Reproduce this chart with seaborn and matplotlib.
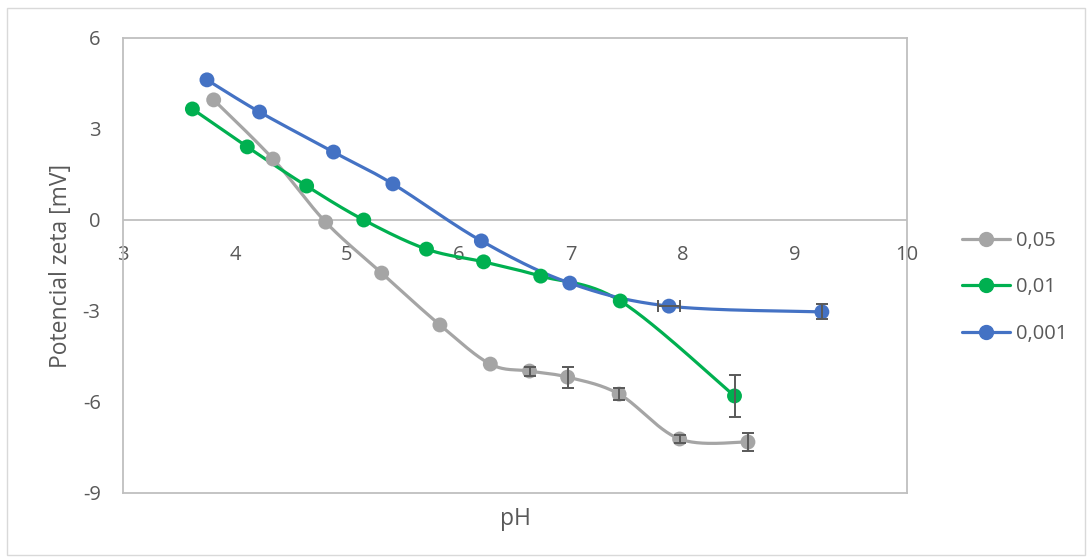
import numpy as np
import pandas as pd
import matplotlib
matplotlib.use("Agg")
import matplotlib.pyplot as plt
from matplotlib.lines import Line2D
from matplotlib.patches import Rectangle
import seaborn as sns

# Zeta potential vs pH for three ionic strengths
ph_005 = [3.81, 4.34, 4.81, 5.31, 5.83, 6.28, 6.63, 6.97, 7.43, 7.97, 8.58]
zeta_005 = [3.96, 2.01, -0.07, -1.75, -3.46, -4.75, -4.98, -5.18, -5.74, -7.22, -7.32]
err_005 = [0.0, 0.0, 0.0, 0.0, 0.0, 0.0, 0.15, 0.35, 0.2, 0.12, 0.3]

ph_001 = [3.62, 4.11, 4.64, 5.15, 5.71, 6.22, 6.73, 7.44, 8.46]
zeta_001 = [3.66, 2.41, 1.12, 0.0, -0.96, -1.38, -1.85, -2.67, -5.80]
err_001 = [0.0, 0.0, 0.0, 0.0, 0.0, 0.0, 0.0, 0.0, 0.68]

ph_0001 = [3.75, 4.22, 4.88, 5.41, 6.20, 6.99, 7.875, 9.24]
zeta_0001 = [4.62, 3.56, 2.24, 1.19, -0.69, -2.08, -2.84, -3.03]
err_0001 = [0.0, 0.0, 0.0, 0.0, 0.0, 0.0, 0.0, 0.25]
xerr_0001 = [0.0, 0.0, 0.0, 0.0, 0.0, 0.0, 0.1, 0.0]

labels = ["0,05", "0,01", "0,001"]
colors = ["#A5A5A5", "#00B050", "#4472C4"]

x_ticks = [3, 4, 5, 6, 7, 8, 9, 10]
y_ticks = [-9, -6, -3, 0, 3, 6]

series = [
    (ph_005, zeta_005, err_005, None),
    (ph_001, zeta_001, err_001, None),
    (ph_0001, zeta_0001, err_0001, xerr_0001),
]


def smooth_curve(x, y, n=30):
    """Bezier smoothing through every point (spreadsheet-style smoothed line)."""
    p = np.column_stack([x, y]).astype(float)
    out = [p[0:1]]
    for i in range(len(p) - 1):
        p0 = p[i - 1] if i > 0 else p[i]
        p1, p2 = p[i], p[i + 1]
        p3 = p[i + 2] if i + 2 < len(p) else p[i + 1]
        c1 = p1 + (p2 - p0) / 6.0
        c2 = p2 - (p3 - p1) / 6.0
        t = np.linspace(0, 1, n)[1:, None]
        seg = ((1 - t) ** 3) * p1 + 3 * ((1 - t) ** 2) * t * c1 + 3 * (1 - t) * t ** 2 * c2 + t ** 3 * p2
        out.append(seg)
    c = np.vstack(out)
    return c[:, 0], c[:, 1]


sns.set_theme(style="white")
plt.rcParams["font.family"] = ["Open Sans", "DejaVu Sans"]
text_color = "#595959"
grid_color = "#BFBFBF"
fs = 14.5
fs_title = 16.5

fig = plt.figure(figsize=(10.9, 5.58), dpi=100)
ax = fig.add_axes([0.1128, 0.1165, 0.8321 - 0.1128, 0.9319 - 0.1165])

# outer chart frame
fig.patches.append(Rectangle((7 / 1090, 3 / 558), 1078 / 1090, 547 / 558,
                             transform=fig.transFigure, fill=False,
                             edgecolor="#D9D9D9", linewidth=1.0))

ax.axhline(0, color=grid_color, linewidth=1.3, zorder=1)

for (xs, ys, es, xes), lab, col in zip(series, labels, colors):
    sx, sy = smooth_curve(xs, ys)
    ax.plot(sx, sy, color=col, linewidth=2.3, zorder=2, solid_capstyle="round")
    df = pd.DataFrame({"pH": xs, "zeta": ys})
    sns.scatterplot(data=df, x="pH", y="zeta", color=col, s=115,
                    edgecolor="none", ax=ax, zorder=3, legend=False)
    e = np.array(es)
    m = e > 0
    if m.any():
        ax.errorbar(np.array(xs)[m], np.array(ys)[m], yerr=e[m], fmt="none",
                    ecolor="#595959", elinewidth=1.4, capsize=4, capthick=1.4, zorder=4)
    if xes is not None:
        xe = np.array(xes)
        mx = xe > 0
        ax.errorbar(np.array(xs)[mx], np.array(ys)[mx], xerr=xe[mx], fmt="none",
                    ecolor="#595959", elinewidth=1.4, capsize=4, capthick=1.4, zorder=4)

ax.set_xlim(3, 10)
ax.set_ylim(-9, 6)
ax.set_yticks(y_ticks)
ax.set_yticklabels([str(v) for v in y_ticks])
ax.set_xticks(x_ticks)
ax.tick_params(axis="x", labelbottom=False, length=0)
ax.tick_params(axis="y", length=0, labelsize=fs, labelcolor=text_color, pad=16)

# x tick labels sit just below the zero line
sec = ax.secondary_xaxis(0.6)
sec.set_alignment("bottom")
sec.set_xticks(x_ticks)
sec.set_xticklabels([str(v) for v in x_ticks])
sec.tick_params(length=0, labelsize=fs, labelcolor=text_color, pad=18)
for s in sec.spines.values():
    s.set_visible(False)

for s in ax.spines.values():
    s.set_visible(True)
    s.set_color(grid_color)
    s.set_linewidth(1.3)

ax.set_xlabel("pH", fontsize=fs_title, color=text_color, labelpad=10)
ax.set_ylabel("Potencial zeta [mV]", fontsize=fs_title, color=text_color, labelpad=7)

handles = [Line2D([0], [0], color=c, linewidth=2.3, marker="o", markersize=10,
                  markeredgecolor=c) for c in colors]
leg = fig.legend(handles, labels, loc="center left", bbox_to_anchor=(0.866, 0.485),
                 frameon=False, fontsize=fs, labelcolor=text_color,
                 handlelength=2.4, handletextpad=0.3, labelspacing=1.3)

fig.savefig("out.png", dpi=100)
